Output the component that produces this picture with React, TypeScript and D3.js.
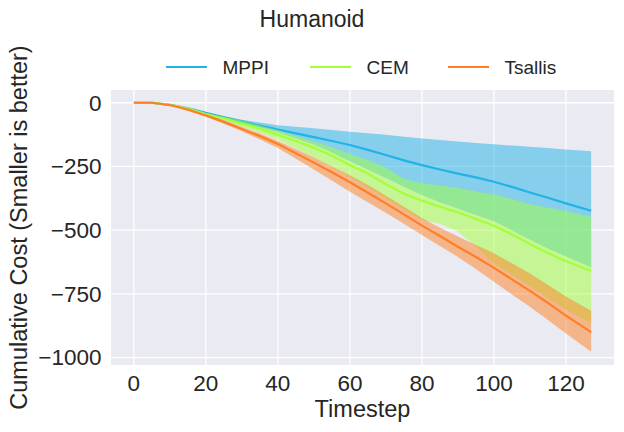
import React from "react";
import * as d3 from "d3";

// timesteps the curves were read at
const steps = [0, 5, 10, 15, 20, 25, 30, 35, 40, 45, 50, 55, 60, 65, 70, 75, 80, 85, 90, 95, 100, 105, 110, 115, 120, 127];

const mppiMean = [0, 0, -8, -22, -40, -57, -73, -90, -105, -120, -135, -150, -166, -185, -205, -226, -245, -262, -278, -293, -310, -330, -352, -373, -395, -424];
const mppiHi = [0, 0, -8, -21, -38, -53, -67, -78, -88, -94, -100, -107, -114, -120, -126, -133, -140, -146, -152, -158, -163, -168, -173, -178, -183, -190];
const mppiLo = [0, 0, -8, -23, -42, -60, -78, -97, -117, -140, -165, -195, -230, -262, -295, -330, -362, -390, -415, -440, -465, -500, -538, -572, -603, -645];

const cemMean = [0, 0, -8, -23, -44, -62, -82, -102, -125, -150, -177, -208, -245, -278, -320, -357, -384, -408, -430, -456, -483, -517, -554, -590, -622, -660];
const cemHi = [0, 0, -8, -22, -41, -55, -70, -88, -108, -130, -152, -175, -200, -225, -255, -298, -315, -325, -335, -348, -360, -378, -398, -412, -425, -447];
const cemLo = [0, 0, -8, -24, -47, -68, -95, -118, -145, -180, -215, -252, -290, -332, -375, -418, -460, -475, -505, -565, -631, -675, -720, -765, -810, -866];

const tsMean = [0, 0, -9, -27, -50, -75, -103, -131, -162, -198, -235, -273, -312, -353, -395, -438, -482, -523, -565, -605, -648, -693, -738, -785, -835, -900];
const tsHi = [0, 0, -8, -25, -45, -68, -95, -121, -150, -182, -215, -250, -284, -323, -365, -408, -452, -490, -525, -558, -591, -630, -670, -715, -760, -816];
const tsLo = [0, 0, -10, -29, -55, -82, -112, -144, -178, -220, -262, -305, -349, -390, -432, -475, -519, -562, -605, -652, -702, -752, -800, -852, -905, -977];

const seriesNames = ["MPPI", "CEM", "Tsallis"];
const seriesColors = ["#22b3e5", "#a2ff3a", "#ff7f24"];
const seriesMeans = [mppiMean, cemMean, tsMean];
const seriesHis = [mppiHi, cemHi, tsHi];
const seriesLos = [mppiLo, cemLo, tsLo];

const xTicks = [0, 20, 40, 60, 80, 100, 120];
const yTicks = [0, -250, -500, -750, -1000];
const yTickLabels = ["0", "\u2212250", "\u2212500", "\u2212750", "\u22121000"];

const W = 624;
const H = 432;
const font = "'Liberation Sans', Arial, sans-serif";
const ink = "#262626";

export default function App() {
  const plot = { left: 111, right: 614, top: 90, bottom: 365 };
  const x = d3.scaleLinear().domain([-6.35, 133.35]).range([plot.left, plot.right]);
  const y = d3.scaleLinear().domain([-1029, 50]).range([plot.bottom, plot.top]);

  const area = (lo: number[], hi: number[]) =>
    d3
      .area<number>()
      .x((t) => x(t))
      .y0((_, i) => y(lo[i]))
      .y1((_, i) => y(hi[i]))(steps) ?? "";

  const line = (vals: number[]) =>
    d3
      .line<number>()
      .x((t) => x(t))
      .y((_, i) => y(vals[i]))(steps) ?? "";

  // legend layout
  const legendX = [166, 310, 448];

  return (
    <div style={{ position: "fixed", left: 0, top: 0 }}>
      <svg width={W} height={H} style={{ display: "block", background: "#fff" }}>
        {/* title */}
        <text x={312} y={26.5} textAnchor="middle" fontFamily={font} fontSize={23} fill={ink}>
          Humanoid
        </text>

        {/* legend */}
        {seriesNames.map((name, i) => (
          <g key={name} transform={`translate(${legendX[i]},67)`}>
            <line x1={0} x2={41} y1={0} y2={0} stroke={seriesColors[i]} strokeWidth={2.2} />
            <text x={56.5} y={7} fontFamily={font} fontSize={19} fill={ink}>
              {name}
            </text>
          </g>
        ))}

        {/* axes background */}
        <rect
          x={plot.left}
          y={plot.top}
          width={plot.right - plot.left}
          height={plot.bottom - plot.top}
          fill="#eaeaf2"
        />

        {/* grid */}
        {xTicks.map((t) => (
          <line key={"gx" + t} x1={x(t)} x2={x(t)} y1={plot.top} y2={plot.bottom} stroke="#fff" strokeWidth={1.3} />
        ))}
        {yTicks.map((v) => (
          <line key={"gy" + v} x1={plot.left} x2={plot.right} y1={y(v)} y2={y(v)} stroke="#fff" strokeWidth={1.3} />
        ))}

        {/* bands and means */}
        {seriesNames.map((name, i) => (
          <g key={"s" + name}>
            <path d={area(seriesLos[i], seriesHis[i])} fill={seriesColors[i]} fillOpacity={0.5} stroke="none" />
            <path
              d={line(seriesMeans[i])}
              fill="none"
              stroke={seriesColors[i]}
              strokeWidth={2.2}
              strokeLinejoin="round"
            />
          </g>
        ))}

        {/* x tick labels */}
        {xTicks.map((t) => (
          <text key={"tx" + t} x={x(t)} y={390.5} textAnchor="middle" fontFamily={font} fontSize={22.5} fill={ink}>
            {t}
          </text>
        ))}
        {/* y tick labels */}
        {yTicks.map((v, i) => (
          <text
            key={"ty" + v}
            x={101.5}
            y={y(v)}
            dy="0.35em"
            textAnchor="end"
            fontFamily={font}
            fontSize={22.5}
            fill={ink}
          >
            {yTickLabels[i]}
          </text>
        ))}

        {/* axis labels */}
        <text x={(plot.left + plot.right) / 2} y={416.5} textAnchor="middle" fontFamily={font} fontSize={23.5} fill={ink}>
          Timestep
        </text>
        <text
          transform={`translate(27,${(plot.top + plot.bottom) / 2}) rotate(-90)`}
          textAnchor="middle"
          fontFamily={font}
          fontSize={23.5}
          fill={ink}
        >
          Cumulative Cost (Smaller is better)
        </text>
      </svg>
    </div>
  );
}
